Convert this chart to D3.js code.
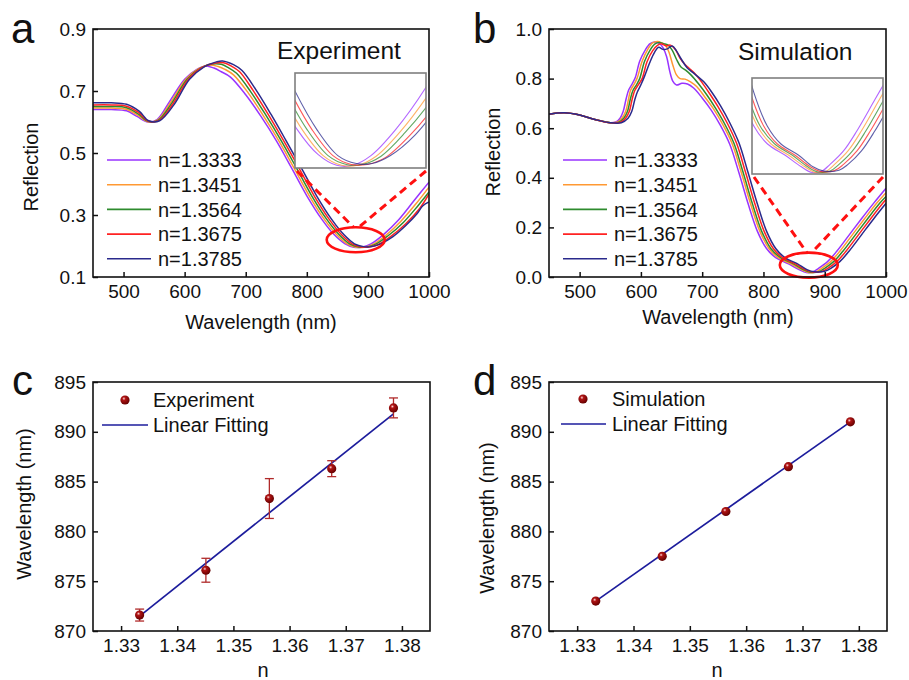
<!DOCTYPE html>
<html lang="en">
<head>
<meta charset="utf-8">
<title>Reflection spectra and dip shift</title>
<script src="https://d3js.org/d3.v7.min.js"></script>
<style>
  body { margin: 0; background: #fff; }
  svg { display: block; font-family: Arial, "Liberation Sans", sans-serif; }
</style>
</head>
<body>
<div id="chart"></div>
<script>
// refractive index of each solution
var indices = ["1.3333", "1.3451", "1.3564", "1.3675", "1.3785"];
var nValues = [1.3333, 1.3451, 1.3564, 1.3675, 1.3785];

// measured spectra: [wavelength (nm), reflection]
var exp1 = [[450,0.640],[480,0.640],[505,0.636],[522,0.618],[540,0.600],[555,0.608],[575,0.665],[600,0.738],[620,0.770],[635,0.781],[648,0.774],[660,0.762],[675,0.745],[700,0.688],[725,0.618],[750,0.540],[775,0.452],[800,0.362],[825,0.285],[845,0.236],[862,0.208],[877,0.196],[890,0.196],[905,0.207],[925,0.236],[950,0.284],[975,0.345],[1000,0.406]];
var exp2 = [[450,0.645],[480,0.645],[505,0.641],[523,0.622],[540,0.601],[556,0.607],[577,0.663],[602,0.738],[623,0.772],[640,0.784],[655,0.779],[666,0.770],[680,0.752],[704,0.694],[729,0.620],[754,0.540],[779,0.452],[804,0.362],[829,0.285],[849,0.236],[866,0.207],[881,0.196],[894,0.196],[909,0.206],[929,0.234],[954,0.280],[979,0.337],[1000,0.390]];
var exp3 = [[450,0.650],[480,0.650],[505,0.646],[524,0.626],[540,0.602],[557,0.606],[579,0.661],[604,0.738],[626,0.774],[645,0.787],[660,0.786],[671,0.776],[685,0.757],[708,0.698],[733,0.622],[758,0.540],[783,0.452],[808,0.362],[833,0.285],[853,0.236],[870,0.207],[885,0.197],[898,0.197],[913,0.206],[933,0.233],[958,0.276],[982,0.330],[1000,0.374]];
var exp4 = [[450,0.655],[480,0.655],[505,0.651],[525,0.630],[540,0.603],[558,0.605],[581,0.659],[606,0.738],[629,0.776],[650,0.790],[664,0.791],[676,0.781],[690,0.762],[712,0.702],[737,0.624],[762,0.540],[787,0.452],[812,0.362],[837,0.285],[857,0.236],[874,0.207],[889,0.197],[902,0.197],[917,0.205],[937,0.230],[962,0.272],[985,0.322],[1000,0.368]];
var exp5 = [[450,0.662],[480,0.662],[505,0.657],[526,0.634],[541,0.604],[559,0.604],[583,0.657],[608,0.738],[632,0.778],[652,0.794],[662,0.797],[680,0.785],[694,0.766],[716,0.706],[741,0.626],[766,0.540],[791,0.452],[816,0.362],[841,0.285],[861,0.236],[878,0.207],[893,0.198],[906,0.198],[921,0.207],[941,0.230],[962,0.266],[980,0.303],[990,0.330],[1000,0.342]];

// simulated spectra: [wavelength (nm), reflection]
var sim1 = [[450,0.656],[475,0.662],[500,0.653],[525,0.635],[550,0.622],[560,0.626],[566,0.640],[571,0.667],[576,0.720],[580,0.754],[586,0.780],[591,0.805],[598,0.870],[607,0.915],[615,0.941],[623,0.948],[630,0.942],[636,0.925],[642,0.888],[647,0.830],[652,0.790],[658,0.774],[667,0.781],[676,0.778],[686,0.762],[700,0.722],[715,0.672],[730,0.610],[745,0.535],[760,0.420],[775,0.295],[790,0.185],[805,0.115],[820,0.078],[840,0.054],[858,0.030],[870,0.018],[880,0.020],[890,0.035],[905,0.063],[920,0.105],[940,0.170],[960,0.235],[980,0.298],[1000,0.358]];
var sim2 = [[450,0.656],[475,0.662],[500,0.653],[525,0.635],[550,0.622],[562,0.625],[569,0.640],[575,0.667],[580,0.720],[583,0.752],[589,0.778],[594,0.803],[602,0.870],[611,0.917],[619,0.944],[627,0.950],[634,0.944],[640,0.935],[646,0.905],[652,0.855],[658,0.815],[664,0.800],[672,0.798],[681,0.787],[691,0.768],[704,0.727],[719,0.676],[734,0.613],[749,0.537],[764,0.420],[779,0.295],[794,0.185],[809,0.115],[824,0.078],[844,0.054],[862,0.030],[874,0.018],[885,0.020],[895,0.035],[910,0.063],[925,0.105],[945,0.170],[965,0.235],[985,0.298],[1000,0.340]];
var sim3 = [[450,0.656],[475,0.662],[500,0.653],[525,0.635],[550,0.622],[564,0.624],[572,0.640],[578,0.667],[583,0.720],[587,0.752],[593,0.776],[598,0.800],[606,0.870],[615,0.915],[623,0.940],[630,0.946],[637,0.941],[644,0.936],[651,0.915],[658,0.878],[665,0.848],[673,0.834],[682,0.814],[694,0.779],[708,0.733],[722,0.680],[737,0.616],[752,0.538],[767,0.420],[782,0.295],[797,0.185],[812,0.115],[828,0.078],[848,0.054],[865,0.030],[877,0.019],[890,0.021],[900,0.035],[915,0.063],[930,0.105],[950,0.170],[970,0.235],[990,0.298],[1000,0.325]];
var sim4 = [[450,0.656],[475,0.662],[500,0.653],[525,0.635],[550,0.622],[566,0.623],[575,0.640],[581,0.667],[586,0.720],[590,0.752],[596,0.776],[602,0.800],[610,0.868],[619,0.912],[627,0.934],[634,0.940],[641,0.932],[648,0.935],[656,0.918],[664,0.882],[672,0.857],[680,0.839],[689,0.818],[699,0.787],[712,0.740],[726,0.686],[741,0.620],[756,0.540],[771,0.420],[786,0.295],[801,0.185],[816,0.115],[831,0.078],[851,0.054],[868,0.030],[880,0.020],[895,0.022],[905,0.035],[920,0.063],[935,0.105],[955,0.170],[975,0.235],[995,0.298],[1000,0.312]];
var sim5 = [[450,0.656],[475,0.662],[500,0.653],[525,0.635],[550,0.622],[568,0.622],[579,0.640],[585,0.667],[590,0.715],[594,0.745],[600,0.775],[606,0.810],[614,0.862],[622,0.905],[629,0.926],[636,0.918],[643,0.920],[651,0.931],[658,0.912],[666,0.878],[675,0.845],[684,0.826],[693,0.808],[703,0.786],[716,0.744],[730,0.690],[745,0.622],[760,0.541],[775,0.420],[790,0.295],[805,0.185],[820,0.115],[835,0.078],[855,0.054],[871,0.030],[883,0.021],[900,0.023],[910,0.035],[925,0.063],[940,0.105],[960,0.170],[980,0.235],[1000,0.297]];

// dip wavelength vs n
var expDip = [871.6, 876.1, 883.3, 886.3, 892.4];
var expErr = [0.6, 1.2, 2.0, 0.8, 1.0];
var simDip = [873.0, 877.5, 882.0, 886.5, 891.0];
var expFit = [[1.3333, 871.5], [1.3785, 891.8]];
var simFit = [[1.3333, 873.0], [1.3785, 891.0]];

// tick labels
var wlTicks = [500, 600, 700, 800, 900, 1000];
var expRTicks = [0.1, 0.3, 0.5, 0.7, 0.9];
var simRTicks = [0.0, 0.2, 0.4, 0.6, 0.8, 1.0];
var nTicks = [1.33, 1.34, 1.35, 1.36, 1.37, 1.38];
var dipTicks = [870, 875, 880, 885, 890, 895];

var colors = ["#9933ff", "#ff9933", "#2e8b2e", "#ff2222", "#2a2a8c"];
var expSeries = [exp1, exp2, exp3, exp4, exp5];
var simSeries = [sim1, sim2, sim3, sim4, sim5];

var svg = d3.select("#chart").append("svg")
    .attr("width", 909)
    .attr("height", 680);

var defs = svg.append("defs");
var ball = defs.append("radialGradient").attr("id", "ball")
    .attr("cx", "38%").attr("cy", "35%").attr("r", "65%");
ball.append("stop").attr("offset", "0%").attr("stop-color", "#ffd8d8");
ball.append("stop").attr("offset", "28%").attr("stop-color", "#b01414");
ball.append("stop").attr("offset", "100%").attr("stop-color", "#650000");

// axes + box for one panel
function axes(box, x, y, xTicks, yTicks, xFmt, yFmt) {
  var g = svg.append("g");
  g.append("g")
      .attr("transform", `translate(0,${box.y1})`)
      .call(d3.axisBottom(x).tickValues(xTicks).tickFormat(xFmt).tickSize(-5).tickPadding(8))
      .call(a => a.select(".domain").remove());
  g.append("g")
      .attr("transform", `translate(${box.x0},0)`)
      .call(d3.axisLeft(y).tickValues(yTicks).tickFormat(yFmt).tickSize(-5).tickPadding(7))
      .call(a => a.select(".domain").remove());
  g.selectAll(".tick line").attr("stroke", "#111").attr("stroke-width", 1.5);
  g.selectAll(".tick text").attr("fill", "#111").style("font-size", "19px")
      .style("font-family", "Arial, 'Liberation Sans', sans-serif");
  g.append("rect")
      .attr("x", box.x0).attr("y", box.y0)
      .attr("width", box.x1 - box.x0).attr("height", box.y1 - box.y0)
      .attr("fill", "none").attr("stroke", "#111").attr("stroke-width", 1.6);
  return g;
}

function label(txt, x, y, size, rot) {
  var t = svg.append("text")
      .attr("transform", `translate(${x},${y})` + (rot ? " rotate(-90)" : ""))
      .attr("text-anchor", rot ? "middle" : "start")
      .attr("fill", "#111")
      .style("font-size", size + "px")
      .text(txt);
  return t;
}

// spectrum panel (a / b)
function spectra(opt) {
  var box = opt.box;
  var x = d3.scaleLinear().domain([450, 1000]).range([box.x0, box.x1]);
  var y = d3.scaleLinear().domain(opt.yDomain).range([box.y1, box.y0]);

  var clipId = "clip" + opt.id;
  defs.append("clipPath").attr("id", clipId).append("rect")
      .attr("x", box.x0).attr("y", box.y0)
      .attr("width", box.x1 - box.x0).attr("height", box.y1 - box.y0);

  var line = d3.line()
      .x(d => x(d[0])).y(d => y(d[1]))
      .curve(d3.curveCatmullRom.alpha(0.5));

  svg.append("g").attr("clip-path", `url(#${clipId})`)
    .selectAll("path").data(opt.series).join("path")
      .attr("d", line)
      .attr("fill", "none")
      .attr("stroke", (d, i) => colors[i])
      .attr("stroke-width", 1.5);

  // zoomed inset of the dip
  var ib = opt.inset;
  var xi = d3.scaleLinear().domain(opt.insetX).range([0, ib.w]);
  var yi = d3.scaleLinear().domain(opt.insetY).range([ib.h, 0]);
  var lineI = d3.line()
      .x(d => xi(d[0])).y(d => yi(d[1]))
      .curve(d3.curveCatmullRom.alpha(0.5));
  defs.append("clipPath").attr("id", clipId + "i").append("rect")
      .attr("width", ib.w).attr("height", ib.h);
  var gi = svg.append("g").attr("transform", `translate(${ib.x},${ib.y})`);
  gi.append("rect").attr("width", ib.w).attr("height", ib.h).attr("fill", "#fff");
  gi.append("g").attr("clip-path", `url(#${clipId}i)`)
    .selectAll("path").data(opt.series).join("path")
      .attr("d", lineI)
      .attr("fill", "none")
      .attr("stroke", (d, i) => colors[i])
      .attr("stroke-opacity", 0.75)
      .attr("stroke-width", 1.1);
  gi.append("rect").attr("width", ib.w).attr("height", ib.h)
      .attr("fill", "none").attr("stroke", "#7f7f7f").attr("stroke-width", 1.6);

  // red ellipse + dashed leaders
  var ex = x(opt.mark[0]), ey = y(opt.mark[1]);
  svg.append("ellipse")
      .attr("cx", ex).attr("cy", ey).attr("rx", 29).attr("ry", 12.5)
      .attr("fill", "none").attr("stroke", "#ff1010").attr("stroke-width", 2.6);
  [[ib.x + 2, ex - 2], [ib.x + ib.w, ex + 3]].forEach(function(p) {
    svg.append("line")
        .attr("x1", p[0]).attr("y1", ib.y + ib.h + 3)
        .attr("x2", p[1]).attr("y2", ey - 12.5)
        .attr("stroke", "#ff1010").attr("stroke-width", 3)
        .attr("stroke-dasharray", "8,5");
  });

  axes(box, x, y, wlTicks, opt.yTicks, d3.format("d"), d3.format(".1f"));

  // legend
  indices.forEach(function(n, i) {
    var ly = opt.legend.y + i * 24.7;
    svg.append("line")
        .attr("x1", opt.legend.x).attr("x2", opt.legend.x + 44)
        .attr("y1", ly).attr("y2", ly)
        .attr("stroke", colors[i]).attr("stroke-width", 1.6);
    label("n=" + n, opt.legend.x + 51, ly, 20).attr("dy", "0.36em");
  });
}

spectra({
  id: "a", box: {x0: 93, x1: 429, y0: 29, y1: 277},
  yDomain: [0.1, 0.9], yTicks: expRTicks, series: expSeries,
  inset: {x: 295, y: 73, w: 131, h: 95}, insetX: [843, 950], insetY: [0.193, 0.30],
  mark: [880, 0.22], legend: {x: 107, y: 160}
});
spectra({
  id: "b", box: {x0: 549, x1: 886, y0: 29, y1: 277},
  yDomain: [0, 1], yTicks: simRTicks, series: simSeries,
  inset: {x: 752, y: 78, w: 131, h: 96}, insetX: [803, 949], insetY: [0.015, 0.215],
  mark: [874, 0.048], legend: {x: 563, y: 160}
});

// dip-vs-n panel (c / d)
function shift(opt) {
  var box = opt.box;
  var x = d3.scaleLinear().domain([1.325, 1.385]).range([box.x0, box.x1]);
  var y = d3.scaleLinear().domain([870, 895]).range([box.y1, box.y0]);

  svg.append("path")
      .attr("d", d3.line().x(d => x(d[0])).y(d => y(d[1]))(opt.fit))
      .attr("fill", "none").attr("stroke", "#1c1c9c").attr("stroke-width", 1.7);

  if (opt.err) {
    var eb = svg.append("g").attr("stroke", "#b02a2a").attr("stroke-width", 1.3);
    nValues.forEach(function(n, i) {
      var cx = x(n), lo = y(opt.dip[i] - opt.err[i]), hi = y(opt.dip[i] + opt.err[i]);
      eb.append("line").attr("x1", cx).attr("x2", cx).attr("y1", lo).attr("y2", hi);
      eb.append("line").attr("x1", cx - 4.5).attr("x2", cx + 4.5).attr("y1", lo).attr("y2", lo);
      eb.append("line").attr("x1", cx - 4.5).attr("x2", cx + 4.5).attr("y1", hi).attr("y2", hi);
    });
  }

  svg.append("g").selectAll("circle").data(opt.dip).join("circle")
      .attr("cx", (d, i) => x(nValues[i]))
      .attr("cy", d => y(d))
      .attr("r", 4.6)
      .attr("fill", "url(#ball)");

  axes(box, x, y, nTicks, dipTicks, d3.format(".2f"), d3.format("d"));

  var lg = opt.legend;
  svg.append("circle").attr("cx", lg.mx).attr("cy", lg.y).attr("r", 4.6).attr("fill", "url(#ball)");
  label(opt.name, lg.tx, lg.y, 20).attr("dy", "0.36em");
  svg.append("line")
      .attr("x1", lg.lx0).attr("x2", lg.lx1).attr("y1", lg.y + 25).attr("y2", lg.y + 25)
      .attr("stroke", "#1c1c9c").attr("stroke-width", 1.7);
  label("Linear Fitting", lg.tx, lg.y + 25, 20).attr("dy", "0.36em");
}

shift({
  box: {x0: 93, x1: 430, y0: 382, y1: 631}, dip: expDip, err: expErr, fit: expFit,
  name: "Experiment", legend: {mx: 125, tx: 153, lx0: 102, lx1: 148, y: 400}
});
shift({
  box: {x0: 549, x1: 887, y0: 382, y1: 631}, dip: simDip, err: null, fit: simFit,
  name: "Simulation", legend: {mx: 583, tx: 612, lx0: 561, lx1: 606, y: 399}
});

// titles, axis names, panel letters
label("Experiment", 277, 59, 24.5);
label("Simulation", 738, 60, 24.5);

label("Reflection", 38, 167, 20, true);
label("Reflection", 500, 152, 20, true);
label("Wavelength (nm)", 261, 329, 20).attr("text-anchor", "middle");
label("Wavelength (nm)", 718, 324, 20).attr("text-anchor", "middle");

label("Wavelength (nm)", 31, 504, 20, true);
label("Wavelength (nm)", 494, 518, 20, true);
label("n", 263, 677, 20).attr("text-anchor", "middle");
label("n", 717, 677, 20).attr("text-anchor", "middle");

label("a", 11, 43, 42);
label("b", 473, 43, 42);
label("c", 12, 395, 42);
label("d", 473, 395, 42);
</script>
</body>
</html>
